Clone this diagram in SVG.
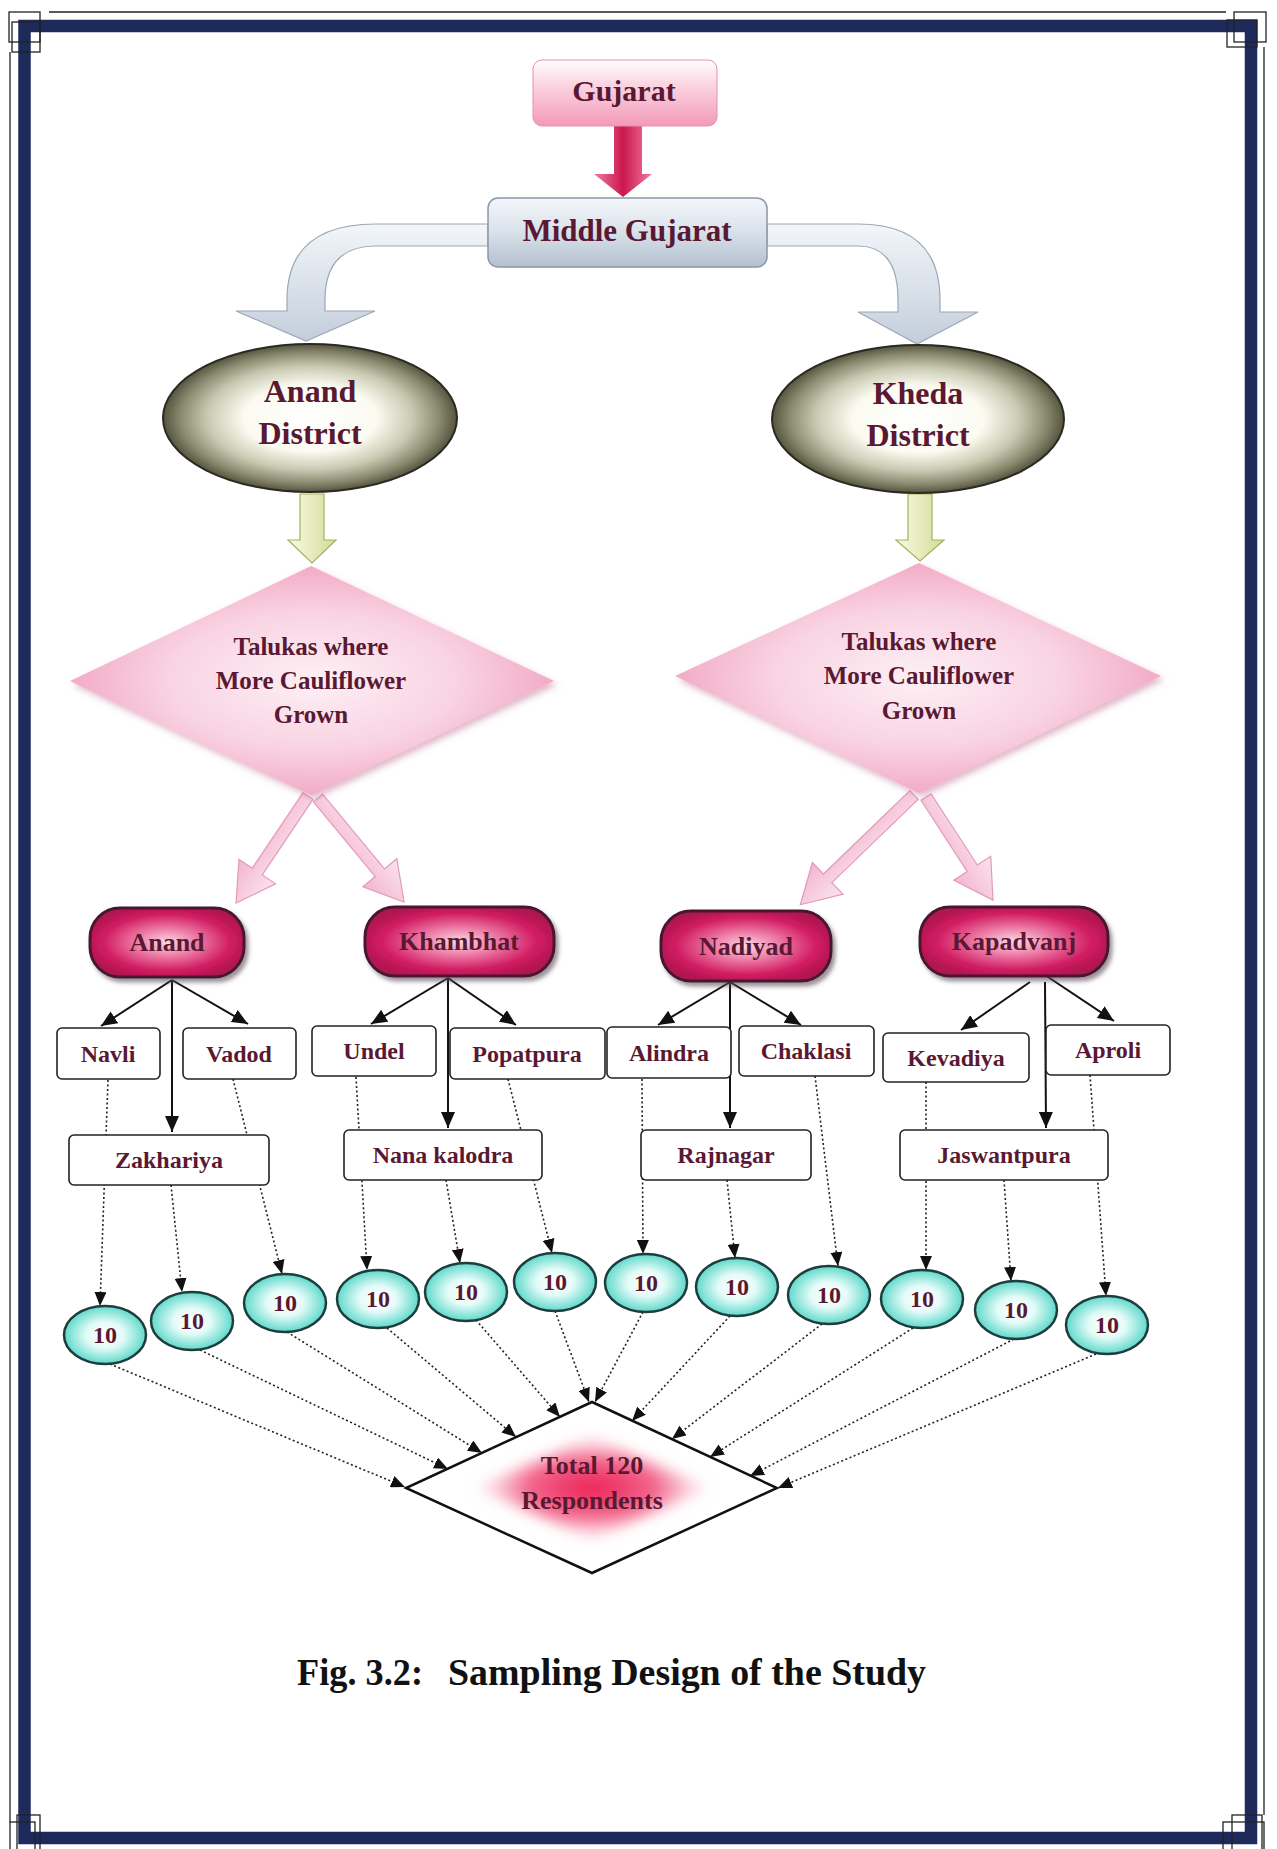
<svg xmlns="http://www.w3.org/2000/svg" width="1277" height="1849" viewBox="0 0 1277 1849">
<style>
.t{font-family:"Liberation Serif","Times New Roman",serif;font-weight:bold;text-anchor:middle;fill:#5a1832}
.vb{fill:#fff;stroke:#222;stroke-width:1.6}
.dot{stroke:#222;stroke-width:1.6;stroke-dasharray:2 2.5;fill:none;marker-end:url(#ahs)}
.sol{stroke:#111;stroke-width:2;fill:none;marker-end:url(#ah)}
.circ{fill:url(#gCirc);stroke:#1f3d3d;stroke-width:2.5}
.pill{fill:url(#gPill);stroke:#4a1833;stroke-width:3;filter:url(#shPill)}
.dist{fill:url(#gDist);stroke:#2a2a22;stroke-width:2}
.dia{fill:url(#gDia);filter:url(#shDia)}
.parr{fill:url(#gParr);stroke:#e39ab8;stroke-width:1.2}
.frm{fill:none;stroke:#222;stroke-width:1.3}
</style>
<defs>
<marker id="ah" viewBox="0 0 16 14" refX="16" refY="7" markerWidth="16" markerHeight="14" markerUnits="userSpaceOnUse" orient="auto"><path d="M0,0 L16,7 L0,14 z" fill="#111"/></marker>
<marker id="ahs" viewBox="0 0 14 12" refX="14" refY="6" markerWidth="14" markerHeight="12" markerUnits="userSpaceOnUse" orient="auto"><path d="M0,0 L14,6 L0,12 z" fill="#111"/></marker>
<radialGradient id="gCirc" cx="0.5" cy="0.5" r="0.5"><stop offset="0" stop-color="#ffffff"/><stop offset="0.45" stop-color="#e4fbf8"/><stop offset="1" stop-color="#5fd9cb"/></radialGradient>
<radialGradient id="gPill" cx="0.5" cy="0.5" r="0.55"><stop offset="0" stop-color="#fbd9e5"/><stop offset="0.35" stop-color="#ee7ea8"/><stop offset="0.75" stop-color="#d11c62"/><stop offset="1" stop-color="#b01550"/></radialGradient>
<radialGradient id="gDist" cx="0.5" cy="0.5" r="0.5"><stop offset="0" stop-color="#ffffff"/><stop offset="0.45" stop-color="#fbfbf1"/><stop offset="0.7" stop-color="#c9c9b2"/><stop offset="0.88" stop-color="#8a8a70"/><stop offset="1" stop-color="#55553f"/></radialGradient>
<radialGradient id="gDia" cx="0.5" cy="0.5" r="0.5"><stop offset="0" stop-color="#fdf0f5"/><stop offset="0.6" stop-color="#f9d3e2"/><stop offset="1" stop-color="#f2abc6"/></radialGradient>
<radialGradient id="gTot" cx="0.5" cy="0.5" r="0.5"><stop offset="0" stop-color="#ec1f55"/><stop offset="0.55" stop-color="#f2668c"/><stop offset="1" stop-color="#fcd3de" stop-opacity="0.3"/></radialGradient>
<linearGradient id="gParr" x1="0" y1="0" x2="0" y2="1"><stop offset="0" stop-color="#fbe3ee"/><stop offset="1" stop-color="#f3b5cf"/></linearGradient>
<linearGradient id="gGuj" x1="0" y1="0" x2="0" y2="1"><stop offset="0" stop-color="#ffffff"/><stop offset="0.35" stop-color="#fcd7e3"/><stop offset="1" stop-color="#f29ab9"/></linearGradient>
<linearGradient id="gMid" x1="0" y1="0" x2="0" y2="1"><stop offset="0" stop-color="#f4f7fa"/><stop offset="0.5" stop-color="#d8e1ea"/><stop offset="1" stop-color="#b3c0cf"/></linearGradient>
<linearGradient id="gBend" x1="0" y1="0" x2="0" y2="1"><stop offset="0" stop-color="#f3f6fa"/><stop offset="1" stop-color="#c3cedb"/></linearGradient>
<linearGradient id="gYel" x1="0" y1="0" x2="1" y2="0"><stop offset="0" stop-color="#f9fbe6"/><stop offset="1" stop-color="#d3db96"/></linearGradient>
<linearGradient id="gRed" x1="0" y1="0" x2="1" y2="0"><stop offset="0" stop-color="#f27a9f"/><stop offset="0.5" stop-color="#c9184e"/><stop offset="1" stop-color="#f27a9f"/></linearGradient>
<filter id="shPill" x="-20%" y="-20%" width="140%" height="150%"><feDropShadow dx="3" dy="4" stdDeviation="2" flood-color="#5a4a55" flood-opacity="0.6"/></filter>
<filter id="shDia" x="-10%" y="-10%" width="125%" height="125%"><feDropShadow dx="3" dy="4" stdDeviation="3" flood-color="#c27594" flood-opacity="0.5"/></filter>
<filter id="blur" x="-20%" y="-30%" width="140%" height="160%"><feGaussianBlur stdDeviation="7"/></filter>
</defs>

<g id="frame">
<rect x="24.5" y="26" width="1226.5" height="1812" fill="none" stroke="#1f2a5c" stroke-width="12.5"/>
<line class="frm" x1="49" y1="12" x2="1226" y2="12"/>
<line class="frm" x1="10" y1="52" x2="10" y2="1822"/>
<line class="frm" x1="1264" y1="47" x2="1264" y2="1815"/>
<rect class="frm" x="9" y="12" width="31" height="30"/>
<rect class="frm" x="12" y="22" width="28" height="30"/>
<rect class="frm" x="1234" y="12" width="32" height="30"/>
<rect class="frm" x="1227" y="20" width="30" height="27"/>
<rect class="frm" x="10" y="1822" width="25" height="30"/>
<rect class="frm" x="17" y="1815" width="23" height="37"/>
<rect class="frm" x="1223" y="1822" width="41" height="30"/>
<rect class="frm" x="1232" y="1815" width="30" height="37"/>
</g>

<g id="connectors">
<polygon points="614,124 642,124 642,174 652,174 623,197 594,174 614,174" fill="url(#gRed)"/>
<path d="M488,224 L376,224 Q287,224 287,300 L287,311 L236,311 L306,341 L375,311 L325,311 L325,300 Q325,246 376,246 L488,246 Z" fill="url(#gBend)" stroke="#9aa8b8" stroke-width="1.2"/>
<path d="M767,224 L858,224 Q940,224 940,300 L940,312 L978,312 L917,344 L858,312 L898,312 L898,300 Q898,246 858,246 L767,246 Z" fill="url(#gBend)" stroke="#9aa8b8" stroke-width="1.2"/>
<polygon points="300,494 324,494 324,540 336,540 312,563 288,540 300,540" fill="url(#gYel)" stroke="#a7b062" stroke-width="1.2"/>
<polygon points="908,494 932,494 932,540 944,540 920,561 896,540 908,540" fill="url(#gYel)" stroke="#a7b062" stroke-width="1.2"/>
<polygon class="parr" transform="translate(308,796) rotate(123.9)" points="0,-6 91,-6 91,-22 129,0 91,22 91,6 0,6"/>
<polygon class="parr" transform="translate(318,798) rotate(50.4)" points="0,-6 97,-6 97,-22 135,0 97,22 97,6 0,6"/>
<polygon class="parr" transform="translate(914,795) rotate(136)" points="0,-6 120,-6 120,-22 158,0 120,22 120,6 0,6"/>
<polygon class="parr" transform="translate(926,797) rotate(57)" points="0,-6 85,-6 85,-22 123,0 85,22 85,6 0,6"/>

<line class="sol" x1="172" y1="980" x2="101" y2="1026"/>
<line class="sol" x1="172" y1="980" x2="248" y2="1024"/>
<line class="sol" x1="172" y1="980" x2="172" y2="1132"/>
<line class="sol" x1="448" y1="978" x2="371" y2="1024"/>
<line class="sol" x1="448" y1="978" x2="516" y2="1025"/>
<line class="sol" x1="448" y1="978" x2="448" y2="1128"/>
<line class="sol" x1="730" y1="982" x2="658" y2="1025"/>
<line class="sol" x1="730" y1="982" x2="801" y2="1025"/>
<line class="sol" x1="730" y1="982" x2="730" y2="1128"/>
<line class="sol" x1="1030" y1="982" x2="961" y2="1030"/>
<line class="sol" x1="1045" y1="982" x2="1046" y2="1128"/>
<line class="sol" x1="1045" y1="975" x2="1114" y2="1021"/>

<line class="dot" x1="108" y1="1080" x2="100" y2="1306"/>
<line class="dot" x1="171" y1="1185" x2="182" y2="1292"/>
<line class="dot" x1="233" y1="1079" x2="282" y2="1274"/>
<line class="dot" x1="356" y1="1077" x2="367" y2="1270"/>
<line class="dot" x1="446" y1="1180" x2="460" y2="1263"/>
<line class="dot" x1="508" y1="1079" x2="552" y2="1253"/>
<line class="dot" x1="642" y1="1079" x2="643" y2="1254"/>
<line class="dot" x1="727" y1="1180" x2="735" y2="1258"/>
<line class="dot" x1="815" y1="1076" x2="838" y2="1266"/>
<line class="dot" x1="926" y1="1082" x2="926" y2="1270"/>
<line class="dot" x1="1004" y1="1180" x2="1011" y2="1281"/>
<line class="dot" x1="1090" y1="1075" x2="1106" y2="1296"/>

<line class="dot" x1="110" y1="1364" x2="405" y2="1487"/>
<line class="dot" x1="200" y1="1350" x2="448" y2="1469"/>
<line class="dot" x1="287" y1="1332" x2="482" y2="1453"/>
<line class="dot" x1="387" y1="1328" x2="516" y2="1437"/>
<line class="dot" x1="476" y1="1320" x2="560" y2="1417"/>
<line class="dot" x1="555" y1="1311" x2="589" y2="1402"/>
<line class="dot" x1="643" y1="1312" x2="595" y2="1402"/>
<line class="dot" x1="730" y1="1316" x2="632" y2="1421"/>
<line class="dot" x1="822" y1="1324" x2="672" y2="1439"/>
<line class="dot" x1="913" y1="1328" x2="710" y2="1457"/>
<line class="dot" x1="1014" y1="1339" x2="750" y2="1476"/>
<line class="dot" x1="1096" y1="1354" x2="778" y2="1488"/>
</g>

<g id="node-gujarat">
<rect x="533" y="60" width="184" height="66" rx="9" fill="url(#gGuj)" stroke="#e58fb0" stroke-width="1"/>
<text class="t" x="624" y="101" font-size="30">Gujarat</text>
</g>
<g id="node-middle-gujarat">
<rect x="488" y="198" width="279" height="69" rx="10" fill="url(#gMid)" stroke="#8a97a6" stroke-width="1.5"/>
<text class="t" x="627" y="241" font-size="31">Middle Gujarat</text>
</g>
<g id="node-anand-district">
<ellipse class="dist" cx="310" cy="418" rx="147" ry="74"/>
<text class="t" x="310" y="402" font-size="32">Anand</text>
<text class="t" x="310" y="444" font-size="32">District</text>
</g>
<g id="node-kheda-district">
<ellipse class="dist" cx="918" cy="419" rx="146" ry="74"/>
<text class="t" x="918" y="404" font-size="32">Kheda</text>
<text class="t" x="918" y="446" font-size="32">District</text>
</g>
<g id="node-talukas-anand">
<polygon class="dia" points="311,566 554,681 311,795 70,681"/>
<text class="t" x="311" y="655" font-size="25">Talukas where</text>
<text class="t" x="311" y="689" font-size="25">More Cauliflower</text>
<text class="t" x="311" y="723" font-size="25">Grown</text>
</g>
<g id="node-talukas-kheda">
<polygon class="dia" points="919,563 1161,676 919,793 675,676"/>
<text class="t" x="919" y="650" font-size="25">Talukas where</text>
<text class="t" x="919" y="684" font-size="25">More Cauliflower</text>
<text class="t" x="919" y="719" font-size="25">Grown</text>
</g>

<g id="node-anand"><rect class="pill" x="90" y="908" width="154" height="69" rx="30"/><text class="t" x="167" y="951" font-size="26" fill="#4a1030">Anand</text></g>
<g id="node-khambhat"><rect class="pill" x="365" y="907" width="189" height="69" rx="30"/><text class="t" x="459" y="950" font-size="26" fill="#4a1030">Khambhat</text></g>
<g id="node-nadiyad"><rect class="pill" x="661" y="911" width="170" height="70" rx="30"/><text class="t" x="746" y="955" font-size="26" fill="#4a1030">Nadiyad</text></g>
<g id="node-kapadvanj"><rect class="pill" x="920" y="907" width="188" height="69" rx="30"/><text class="t" x="1014" y="950" font-size="26" fill="#4a1030">Kapadvanj</text></g>

<g id="node-navli"><rect class="vb" x="57" y="1028" width="103" height="51" rx="5"/><text class="t" x="108" y="1062" font-size="24">Navli</text></g>
<g id="node-vadod"><rect class="vb" x="183" y="1028" width="113" height="51" rx="5"/><text class="t" x="239" y="1062" font-size="24">Vadod</text></g>
<g id="node-undel"><rect class="vb" x="312" y="1026" width="124" height="50" rx="5"/><text class="t" x="374" y="1059" font-size="24">Undel</text></g>
<g id="node-popatpura"><rect class="vb" x="450" y="1028" width="155" height="51" rx="5"/><text class="t" x="527" y="1062" font-size="24">Popatpura</text></g>
<g id="node-alindra"><rect class="vb" x="607" y="1027" width="124" height="51" rx="5"/><text class="t" x="669" y="1061" font-size="24">Alindra</text></g>
<g id="node-chaklasi"><rect class="vb" x="739" y="1026" width="135" height="50" rx="5"/><text class="t" x="806" y="1059" font-size="24">Chaklasi</text></g>
<g id="node-kevadiya"><rect class="vb" x="883" y="1033" width="146" height="49" rx="5"/><text class="t" x="956" y="1066" font-size="24">Kevadiya</text></g>
<g id="node-aproli"><rect class="vb" x="1046" y="1025" width="124" height="50" rx="5"/><text class="t" x="1108" y="1058" font-size="24">Aproli</text></g>

<g id="node-zakhariya"><rect class="vb" x="69" y="1135" width="200" height="50" rx="5"/><text class="t" x="169" y="1168" font-size="24">Zakhariya</text></g>
<g id="node-nana-kalodra"><rect class="vb" x="344" y="1130" width="198" height="50" rx="5"/><text class="t" x="443" y="1163" font-size="24">Nana kalodra</text></g>
<g id="node-rajnagar"><rect class="vb" x="641" y="1130" width="170" height="50" rx="5"/><text class="t" x="726" y="1163" font-size="24">Rajnagar</text></g>
<g id="node-jaswantpura"><rect class="vb" x="900" y="1130" width="208" height="50" rx="5"/><text class="t" x="1004" y="1163" font-size="24">Jaswantpura</text></g>

<g id="node-c1"><ellipse class="circ" cx="105" cy="1335" rx="41" ry="29"/><text class="t" x="105" y="1343" font-size="24">10</text></g>
<g id="node-c2"><ellipse class="circ" cx="192" cy="1321" rx="41" ry="29"/><text class="t" x="192" y="1329" font-size="24">10</text></g>
<g id="node-c3"><ellipse class="circ" cx="285" cy="1303" rx="41" ry="29"/><text class="t" x="285" y="1311" font-size="24">10</text></g>
<g id="node-c4"><ellipse class="circ" cx="378" cy="1299" rx="41" ry="29"/><text class="t" x="378" y="1307" font-size="24">10</text></g>
<g id="node-c5"><ellipse class="circ" cx="466" cy="1292" rx="41" ry="29"/><text class="t" x="466" y="1300" font-size="24">10</text></g>
<g id="node-c6"><ellipse class="circ" cx="555" cy="1282" rx="41" ry="29"/><text class="t" x="555" y="1290" font-size="24">10</text></g>
<g id="node-c7"><ellipse class="circ" cx="646" cy="1283" rx="41" ry="29"/><text class="t" x="646" y="1291" font-size="24">10</text></g>
<g id="node-c8"><ellipse class="circ" cx="737" cy="1287" rx="41" ry="29"/><text class="t" x="737" y="1295" font-size="24">10</text></g>
<g id="node-c9"><ellipse class="circ" cx="829" cy="1295" rx="41" ry="29"/><text class="t" x="829" y="1303" font-size="24">10</text></g>
<g id="node-c10"><ellipse class="circ" cx="922" cy="1299" rx="41" ry="29"/><text class="t" x="922" y="1307" font-size="24">10</text></g>
<g id="node-c11"><ellipse class="circ" cx="1016" cy="1310" rx="41" ry="29"/><text class="t" x="1016" y="1318" font-size="24">10</text></g>
<g id="node-c12"><ellipse class="circ" cx="1107" cy="1325" rx="41" ry="29"/><text class="t" x="1107" y="1333" font-size="24">10</text></g>

<g id="node-total">
<polygon points="592,1402 777,1488 592,1573 406,1488" fill="#fff" stroke="#111" stroke-width="2.5"/>
<polygon points="474,1488 592,1436 710,1488 592,1540" fill="url(#gTot)" filter="url(#blur)"/>
<text class="t" x="592" y="1474" font-size="26">Total 120</text>
<text class="t" x="592" y="1509" font-size="26">Respondents</text>
</g>

<g id="caption">
<text x="297" y="1685" font-family="Liberation Serif, Times New Roman, serif" font-weight="bold" font-size="37" fill="#111" textLength="126" lengthAdjust="spacingAndGlyphs">Fig. 3.2:</text>
<text x="448" y="1685" font-family="Liberation Serif, Times New Roman, serif" font-weight="bold" font-size="37" fill="#111" textLength="478" lengthAdjust="spacingAndGlyphs">Sampling Design of the Study</text>
</g>
</svg>
